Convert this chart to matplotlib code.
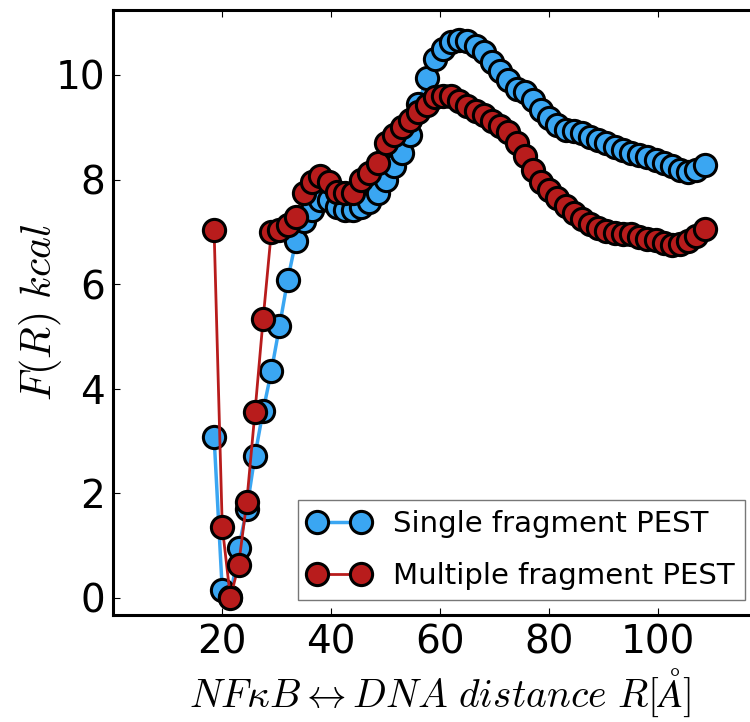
import numpy as np
import matplotlib
matplotlib.use("Agg")
import matplotlib.pyplot as plt

# distance grid (Angstrom), shared by both curves
R = [18.5, 20.0, 21.5, 23.0, 24.5, 26.0, 27.5, 29.0, 30.5, 32.0,
     33.5, 35.0, 36.5, 38.0, 39.5, 41.0, 42.5, 44.0, 45.5, 47.0,
     48.5, 50.0, 51.5, 53.0, 54.5, 56.0, 57.5, 59.0, 60.5, 62.0,
     63.5, 65.0, 66.5, 68.0, 69.5, 71.0, 72.5, 74.0, 75.5, 77.0,
     78.5, 80.0, 81.5, 83.0, 84.5, 86.0, 87.5, 89.0, 90.5, 92.0,
     93.5, 95.0, 96.5, 98.0, 99.5, 101.0, 102.5, 104.0, 105.5, 107.0,
     108.5]

# free energy, single fragment PEST
F_single = [3.08, 0.15, 0.02, 0.95, 1.70, 2.72, 3.58, 4.33, 5.19, 6.08,
            6.82, 7.20, 7.42, 7.60, 7.60, 7.47, 7.42, 7.42, 7.47, 7.58,
            7.75, 8.00, 8.25, 8.50, 8.85, 9.45, 9.95, 10.30, 10.50, 10.63,
            10.67, 10.65, 10.56, 10.44, 10.25, 10.08, 9.90, 9.73, 9.68, 9.52,
            9.33, 9.17, 9.04, 8.95, 8.93, 8.89, 8.82, 8.76, 8.69, 8.63,
            8.57, 8.50, 8.47, 8.44, 8.37, 8.31, 8.25, 8.18, 8.15, 8.18,
            8.28]

# free energy, multiple fragment PEST
F_multi = [7.04, 1.36, 0.0, 0.63, 1.84, 3.55, 5.33, 7.00, 7.04, 7.13,
           7.29, 7.75, 7.96, 8.06, 7.96, 7.77, 7.74, 7.75, 7.99, 8.12,
           8.31, 8.69, 8.85, 9.01, 9.14, 9.30, 9.43, 9.57, 9.60, 9.60,
           9.50, 9.40, 9.32, 9.24, 9.12, 9.02, 8.90, 8.70, 8.45, 8.18,
           7.95, 7.80, 7.65, 7.50, 7.36, 7.25, 7.15, 7.07, 7.02, 6.98,
           6.95, 6.95, 6.90, 6.87, 6.84, 6.78, 6.75, 6.76, 6.82, 6.92,
           7.05]

plt.rcParams['mathtext.fontset'] = 'cm'

fig = plt.figure(figsize=(7.5, 7.22), dpi=100)
ax = fig.add_axes([0.151, 0.148, 0.872, 0.838])

ax.plot(R, F_single, '-o', color='#3aa6f2', lw=2.5, ms=16,
        markerfacecolor='#3aa6f2', markeredgecolor='black', markeredgewidth=2.2,
        label='Single fragment PEST')
ax.plot(R, F_multi, '-o', color='#b81c1c', lw=2, ms=16,
        markerfacecolor='#b81c1c', markeredgecolor='black', markeredgewidth=2.2,
        label='Multiple fragment PEST')

ax.set_xlim(0, 120)
ax.set_ylim(-0.33, 11.24)
ax.set_xticks([20, 40, 60, 80, 100])
ax.set_yticks([0, 2, 4, 6, 8, 10])
ax.tick_params(direction='in', top=True, right=True, labelsize=28, length=5, pad=6)
for s in ax.spines.values():
    s.set_linewidth(2.2)

ax.set_xlabel(r'$NF\kappa B \leftrightarrow DNA\ distance\ R[\AA]$', fontsize=28.5,
              labelpad=4)
ax.set_ylabel(r'$F(R)\ kcal$', fontsize=30, labelpad=-6)

leg = ax.legend(loc='lower right', bbox_to_anchor=(0.966, 0.025),
                numpoints=2, fontsize=21, fancybox=False, borderaxespad=0.0,
                handlelength=2.1, handletextpad=0.8, borderpad=0.35,
                labelspacing=0.8)
leg.get_frame().set_edgecolor('#555555')

fig.savefig('out.png', dpi=100)
